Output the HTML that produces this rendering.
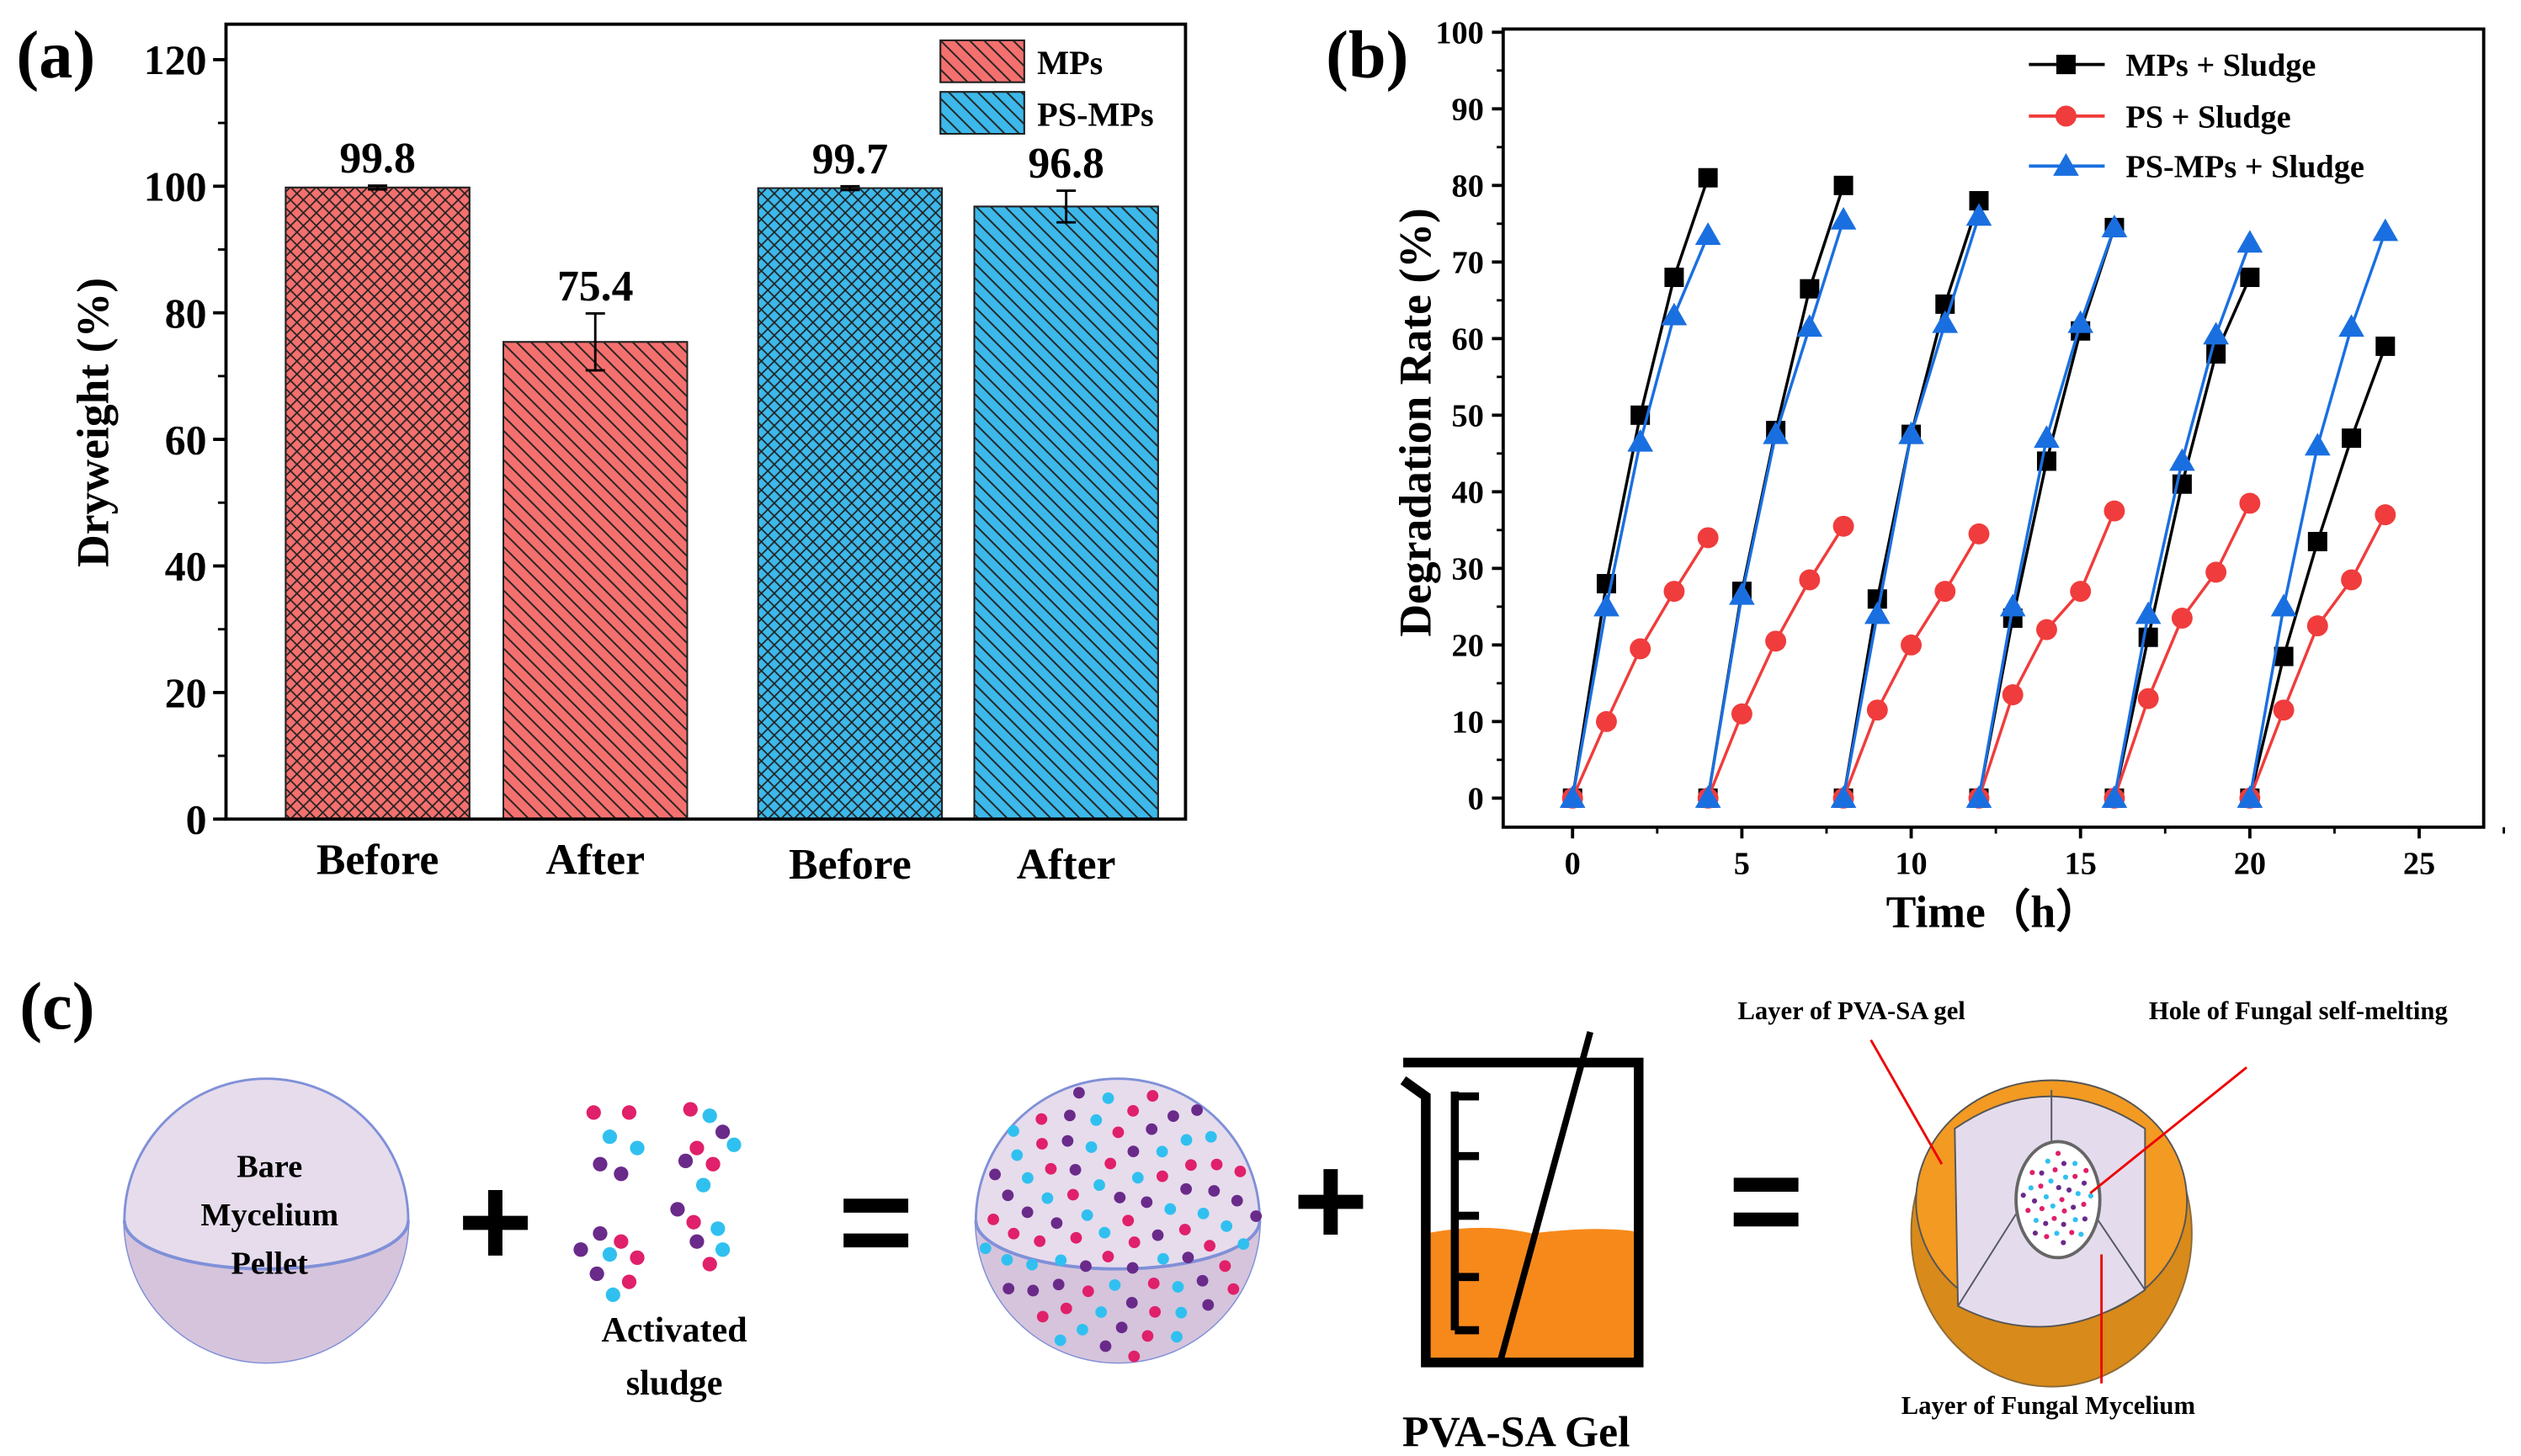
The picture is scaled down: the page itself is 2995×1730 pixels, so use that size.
<!DOCTYPE html>
<html><head><meta charset="utf-8"><style>
html,body{margin:0;padding:0;background:#fff}
svg{display:block;font-family:"Liberation Serif",serif;font-weight:bold}
</style></head><body>
<svg id="s" width="2995" height="1730" viewBox="0 0 1563 903" xmlns="http://www.w3.org/2000/svg">
<defs>
<pattern id="cross" width="8" height="8" patternUnits="userSpaceOnUse"><path d="M0 0L8 8M8 0L0 8M-1 7L1 9M7 -1L9 1M-1 1L1 -1M7 9L9 7" stroke="#222" stroke-width="0.9"/></pattern>
<pattern id="diag" width="9" height="9" patternUnits="userSpaceOnUse"><path d="M0 0L9 9M-1 8L1 10M8 -1L10 1" stroke="#222" stroke-width="1"/></pattern>
</defs>
<g id="pa"></g>
<g id="pb"></g>
<g id="pc">
<text x="12" y="638" font-size="42">(c)</text>
<g>
<circle cx="165" cy="757" r="88" fill="#e6dcec" stroke="#8090d8" stroke-width="1.5"/>
<path d="M77 757 A88 30 0 0 0 253 757 A88 88 0 0 1 77 757Z" fill="#d5c4dc"/>
<path d="M77 757 A88 30 0 0 0 253 757" fill="none" stroke="#8090d8" stroke-width="2"/>
<text x="167" y="730" font-size="20" text-anchor="middle">Bare</text>
<text x="167" y="760" font-size="20" text-anchor="middle">Mycelium</text>
<text x="167" y="790" font-size="20" text-anchor="middle">Pellet</text>
</g>
<text x="307" y="785" font-size="80" text-anchor="middle" font-family="Liberation Sans">+</text>
<g id="sludge"></g>
<text x="418" y="832" font-size="22" text-anchor="middle">Activated</text>
<text x="418" y="865" font-size="22" text-anchor="middle">sludge</text>
<text x="543" y="785" font-size="80" text-anchor="middle" font-family="Liberation Sans">=</text>
<g id="sphere2">
<circle cx="693" cy="757" r="88" fill="#e6dcec" stroke="#8090d8" stroke-width="1.5"/>
<path d="M605 757 A88 30 0 0 0 781 757 A88 88 0 0 1 605 757Z" fill="#d5c4dc"/>
<path d="M605 757 A88 30 0 0 0 781 757" fill="none" stroke="#8090d8" stroke-width="2"/>
</g>
<text x="825" y="772" font-size="80" text-anchor="middle" font-family="Liberation Sans">+</text>
<g>
<path d="M884 765 Q920 758 950 765 Q990 760 1016 764 L1016 843 L884 843Z" fill="#f7891a"/>
<path d="M870 659 L1016 659 L1016 845 L884 845 L884 680 L870 670" fill="none" stroke="#000" stroke-width="6"/>
<line x1="902" y1="677" x2="902" y2="825" stroke="#000" stroke-width="5"/>
<g stroke="#000" stroke-width="5"><line x1="902" y1="680" x2="917" y2="680"/><line x1="902" y1="717" x2="917" y2="717"/><line x1="902" y1="754" x2="917" y2="754"/><line x1="902" y1="792" x2="917" y2="792"/><line x1="902" y1="825" x2="917" y2="825"/></g>
<line x1="986" y1="640" x2="930" y2="845" stroke="#000" stroke-width="4"/>
</g>
<text x="940" y="897" font-size="27" text-anchor="middle">PVA-SA Gel</text>
<text x="1095" y="772" font-size="80" text-anchor="middle" font-family="Liberation Sans">=</text>
<g>
<ellipse cx="1272" cy="765" rx="87" ry="95" fill="#d88a1a" stroke="#8a6a3a"/>
<ellipse cx="1272" cy="745" rx="84" ry="75" fill="#f29a22" stroke="#555"/>
<path d="M1212 700 Q1270 660 1330 700 L1330 800 Q1272 840 1214 810Z" fill="#e4dced" stroke="#555"/>
<path d="M1272 676 L1272 708 M1255 745 L1214 810 M1293 745 L1330 800" stroke="#556" fill="none"/>
<ellipse cx="1276" cy="744" rx="26" ry="36" fill="#fff" stroke="#666" stroke-width="2"/>
<g id="holeDots"></g>
<line x1="1160" y1="645" x2="1204" y2="722" stroke="#e00" stroke-width="1.5"/>
<line x1="1393" y1="662" x2="1296" y2="740" stroke="#e00" stroke-width="1.5"/>
<line x1="1303" y1="778" x2="1303" y2="858" stroke="#e00" stroke-width="1.5"/>
</g>
<text x="1148" y="632" font-size="16" text-anchor="middle">Layer of PVA-SA gel</text>
<text x="1425" y="632" font-size="16" text-anchor="middle">Hole of Fungal self-melting</text>
<text x="1270" y="877" font-size="16" text-anchor="middle">Layer of Fungal Mycelium</text>
</g>
</svg>
<script>
const NS="http://www.w3.org/2000/svg";
function el(p,t,a,txt){const e=document.createElementNS(NS,t);for(const k in a)e.setAttribute(k,a[k]);if(txt!==undefined)e.textContent=txt;p.appendChild(e);return e;}
// ---------- Panel A data ----------
const aCategories=["Before","After","Before","After"];
const aValues=[99.8,75.4,99.7,96.8];
const aErrors=[0.3,4.5,0.3,2.5];
const aTicks=[0,20,40,60,80,100,120];
// ---------- Panel B data ----------
const bTime=[0,1,2,3,4,4,5,6,7,8,8,9,10,11,12,12,13,14,15,16,16,17,18,19,20,20,21,22,23,24];
const bMPs=[0,28,50,68,81,0,27,48,66.5,80,0,26,47.5,64.5,78,0,23.5,44,61,74.5,0,21,41,58,68,0,18.5,33.5,47,59];
const bPS=[0,10,19.5,27,34,0,11,20.5,28.5,35.5,0,11.5,20,27,34.5,0,13.5,22,27,37.5,0,13,23.5,29.5,38.5,0,11.5,22.5,28.5,37];
const bPSMPs=[0,25,46.5,63,73.5,0,26.5,47.5,61.5,75.5,0,24,47.5,62,76,0,25,47,62,74.5,0,24,44,60.5,72.5,0,25,46,61.5,74];
const bYTicks=[0,10,20,30,40,50,60,70,80,90,100];
const bXTicks=[0,5,10,15,20,25];

// Panel A
const pa=document.getElementById('pa');
const ay=v=>508-v*3.925;
const barX=[177,312,470,604], barW=114;
el(pa,'text',{x:10,y:48,'font-size':42}, '(a)');
aValues.forEach((v,i)=>{
  const red=i<2;
  const r=el(pa,'rect',{x:barX[i],y:ay(v),width:barW,height:ay(0)-ay(v),fill:red?'#f4706e':'#3cb8ea',stroke:'#222','stroke-width':1});
  
  
  el(pa,'rect',{x:barX[i],y:ay(v),width:barW,height:ay(0)-ay(v),fill:i%2==0?'url(#cross)':'url(#diag)',stroke:'#222','stroke-width':1});
  const cx=barX[i]+barW/2,e=aErrors[i];
  const eb=el(pa,'path',{d:`M${cx} ${ay(v+e)}V${ay(v-e)}M${cx-6} ${ay(v+e)}H${cx+6}M${cx-6} ${ay(v-e)}H${cx+6}`,stroke:'#000','stroke-width':1.5,fill:'none'});
  
  
  const t=el(pa,'text',{x:cx,y:ay(v+e)-8,'font-size':27,'text-anchor':'middle'},v.toFixed(1));
  
  const c=el(pa,'text',{x:cx,y:i>=2?545:542,'font-size':27,'text-anchor':'middle'},aCategories[i]);
  
});
el(pa,'rect',{x:140,y:15,width:595,height:493,fill:'none',stroke:'#000','stroke-width':2});
aTicks.forEach(t=>{
  el(pa,'line',{x1:140,x2:132,y1:ay(t),y2:ay(t),stroke:'#000','stroke-width':2});
  if(t<120)el(pa,'line',{x1:140,x2:135,y1:ay(t+10),y2:ay(t+10),stroke:'#000','stroke-width':1.5});
  const l=el(pa,'text',{x:128,y:ay(t)+9,'font-size':26,'text-anchor':'end'},t);
  
});
const ayt=el(pa,'text',{x:0,y:0,'font-size':28,'text-anchor':'middle',transform:'translate(67,262) rotate(-90)'},'Dryweight (%)');

[[583,25,'#f4706e','MPs',660,46,'url(#cross)'],[583,57,'#3cb8ea','PS-MPs',640,78,'url(#diag)']].forEach(L=>{
  const g=el(pa,'g',{});
  
  
  el(g,'rect',{x:L[0],y:L[1],width:52,height:26,fill:L[2],stroke:'#222'});
  el(g,'rect',{x:L[0],y:L[1],width:52,height:26,fill:'url(#diag)',stroke:'#222'});
  el(g,'text',{x:L[0]+60,y:L[5],'font-size':21},L[3]);
});

// Panel B
const pb=document.getElementById('pb');
const bx=t=>975+t*21, by=v=>495-v*4.75;
el(pb,'text',{x:822,y:48,'font-size':42},'(b)');
el(pb,'rect',{x:932,y:18,width:608,height:495,fill:'none',stroke:'#000','stroke-width':2});
bYTicks.forEach(t=>{
  el(pb,'line',{x1:932,x2:925,y1:by(t),y2:by(t),stroke:'#000','stroke-width':2});
  if(t<100)el(pb,'line',{x1:932,x2:928,y1:by(t+5),y2:by(t+5),stroke:'#000','stroke-width':1.5});
  const l=el(pb,'text',{x:920,y:by(t)+7,'font-size':20,'text-anchor':'end'},t);
  
});
bXTicks.forEach(t=>{
  el(pb,'line',{x1:bx(t),x2:bx(t),y1:513,y2:520,stroke:'#000','stroke-width':2});
  el(pb,'line',{x1:bx(t+2.5),x2:bx(t+2.5),y1:513,y2:517,stroke:'#000','stroke-width':1.5});
  const l=el(pb,'text',{x:bx(t),y:542,'font-size':20,'text-anchor':'middle'},t);
  
});
const bxt=el(pb,'text',{x:1236,y:575,'font-size':28,'text-anchor':'middle'},'Time（h）');

const byt=el(pb,'text',{x:0,y:0,'font-size':28,'text-anchor':'middle',transform:'translate(887,262) rotate(-90)'},'Degradation Rate (%)');

function marker(g,shape,x,y,col){
  if(shape==='sq')el(g,'rect',{x:x-6,y:y-6,width:12,height:12,fill:col});
  else if(shape==='ci')el(g,'circle',{cx:x,cy:y,r:6.5,fill:col});
  else el(g,'path',{d:`M${x} ${y-8}L${x+8} ${y+6}L${x-8} ${y+6}Z`,fill:col});
}
[[bMPs,'#000','sq','mps-sludge'],[bPS,'#f03c3c','ci','ps-sludge'],[bPSMPs,'#1a6fe0','tr','psmps-sludge']].forEach(S=>{
  const g=el(pb,'g',{});
  
  
  for(let c=0;c<bTime.length;c+=5){
    let d='';
    for(let i=c;i<c+5;i++)d+=(i===c?'M':'L')+bx(bTime[i])+' '+by(S[0][i]);
    el(g,'path',{d,stroke:S[1],'stroke-width':1.8,fill:'none'});
  }
  bTime.forEach((t,i)=>marker(g,S[2],bx(t),by(S[0][i]),S[1]));
});
[['MPs + Sludge','#000','sq',40],['PS + Sludge','#f03c3c','ci',72],['PS-MPs + Sludge','#1a6fe0','tr',103]].forEach(L=>{
  const g=el(pb,'g',{});
  
  
  el(g,'line',{x1:1258,x2:1305,y1:L[3],y2:L[3],stroke:L[1],'stroke-width':2});
  marker(g,L[2],1281,L[3],L[1]);
  el(g,'text',{x:1318,y:L[3]+7,'font-size':20},L[0]);
});

// Panel C dots (decorative)
const cols=['#e0206a','#30c0f0','#6a2a8a'];
const sl=document.getElementById('sludge');
[[368,690],[378,705],[372,722],[390,690],[395,712],[385,728],[428,688],[440,692],[448,702],[432,712],[455,710],[425,720],[442,722],[436,735],[372,765],[385,770],[378,778],[370,790],[390,795],[380,803],[420,750],[430,758],[445,762],[432,770],[440,784],[448,775],[360,775],[395,780]].forEach((p,i)=>el(sl,'circle',{cx:p[0],cy:p[1],r:4.5,fill:cols[i%3]}));
const s2=document.getElementById('sphere2');
for(let i=0;i<90;i++){
  const a=i*2.39996, r=86*Math.sqrt((i+0.5)/90);
  el(s2,'circle',{cx:693+r*Math.cos(a),cy:757+r*Math.sin(a),r:3.6,fill:cols[i%3]});
}
const hd=document.getElementById('holeDots');
for(let i=0;i<40;i++){
  const a=i*2.39996, r=Math.sqrt((i+0.5)/40);
  el(hd,'circle',{cx:1276+22*r*Math.cos(a),cy:744+30*r*Math.sin(a),r:1.6,fill:cols[i%3]});
}
</script>
</body></html>
